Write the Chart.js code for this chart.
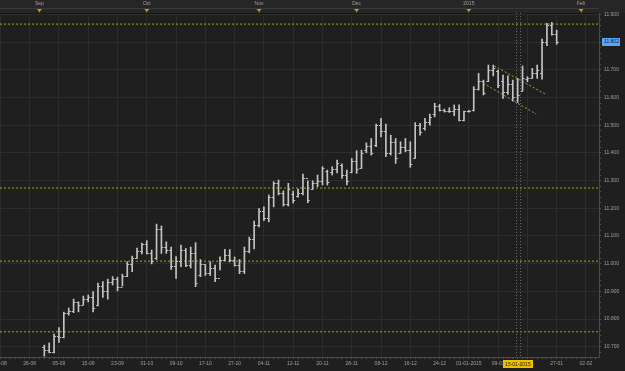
<!DOCTYPE html>
<html>
<head>
  <meta charset="utf-8">
  <title>OHLC daily bars</title>
  <script src="https://cdn.jsdelivr.net/npm/chart.js"></script>
  <style>
    html, body { margin: 0; padding: 0; background: #1f1f1f; overflow: hidden; }
    #wrap { width: 625px; height: 371px; }
  </style>
</head>
<body>
<div id="wrap"><canvas id="ohlcChart"></canvas></div>
<script>
// daily bars, index 0 = first bar on the chart
const highs = [10.706,10.714,10.746,10.769,10.825,10.840,10.872,10.862,10.883,10.887,
  10.899,10.930,10.935,10.944,10.953,10.951,10.962,11.007,11.027,11.056,
  11.074,11.083,11.049,11.143,11.136,11.079,11.060,11.026,11.067,11.055,
  11.060,11.076,11.015,10.997,11.007,10.995,11.025,11.052,11.051,11.024,
  11.015,11.060,11.096,11.154,11.199,11.205,11.248,11.296,11.302,11.263,
  11.290,11.262,11.269,11.323,11.299,11.299,11.320,11.350,11.338,11.350,
  11.374,11.360,11.338,11.380,11.408,11.410,11.436,11.452,11.504,11.525,
  11.504,11.464,11.452,11.440,11.452,11.440,11.509,11.507,11.525,11.540,
  11.579,11.575,11.558,11.563,11.573,11.573,11.551,11.554,11.639,11.687,
  11.663,11.717,11.717,11.699,11.681,11.678,11.663,11.669,11.714,11.675,
  11.705,11.717,11.811,11.868,11.871,11.843];
const lows = [10.666,10.678,10.678,10.716,10.732,10.814,10.823,10.826,10.851,10.862,
  10.826,10.847,10.878,10.872,10.923,10.902,10.919,10.953,10.971,11.019,
  11.035,11.035,10.999,11.015,11.037,11.037,10.979,10.947,10.989,10.989,
  10.984,10.917,10.953,10.957,10.957,10.935,10.977,11.011,11.006,10.991,
  10.964,10.964,11.039,11.053,11.133,11.155,11.151,11.205,11.248,11.208,
  11.208,11.219,11.240,11.248,11.220,11.268,11.278,11.284,11.284,11.320,
  11.328,11.308,11.284,11.328,11.326,11.344,11.400,11.392,11.422,11.458,
  11.386,11.392,11.362,11.398,11.404,11.348,11.380,11.464,11.482,11.500,
  11.530,11.551,11.547,11.546,11.534,11.515,11.515,11.547,11.551,11.627,
  11.609,11.657,11.678,11.635,11.597,11.611,11.587,11.582,11.623,11.657,
  11.669,11.669,11.666,11.787,11.825,11.792];
const opens = [10.700,10.690,10.680,10.740,10.735,10.822,10.830,10.862,10.850,10.872,
  10.880,10.850,10.920,10.900,10.935,10.945,10.915,10.955,11.000,11.020,
  11.045,11.070,11.040,11.020,11.125,11.060,11.050,10.990,11.010,11.050,
  10.995,11.040,10.960,11.000,10.965,10.985,10.950,11.015,11.030,11.015,
  10.995,10.975,11.045,11.090,11.140,11.190,11.165,11.240,11.290,11.255,
  11.215,11.250,11.245,11.255,11.310,11.270,11.290,11.300,11.335,11.330,
  11.340,11.355,11.320,11.330,11.370,11.345,11.410,11.425,11.430,11.500,
  11.480,11.400,11.440,11.400,11.420,11.410,11.380,11.500,11.490,11.510,
  11.540,11.570,11.555,11.552,11.550,11.560,11.520,11.550,11.555,11.630,
  11.660,11.660,11.700,11.695,11.660,11.620,11.650,11.600,11.625,11.665,
  11.670,11.690,11.690,11.800,11.860,11.830];
const closes = [10.690,10.680,10.740,10.735,10.822,10.830,10.862,10.850,10.872,10.880,
  10.840,10.920,10.900,10.935,10.945,10.915,10.955,11.000,11.020,11.045,
  11.070,11.040,11.010,11.125,11.060,11.050,10.990,11.010,11.050,10.995,
  11.040,10.930,11.000,10.965,10.985,10.950,11.015,11.030,11.015,10.995,
  10.975,11.045,11.090,11.140,11.190,11.165,11.240,11.290,11.255,11.215,
  11.270,11.230,11.255,11.310,11.230,11.290,11.300,11.345,11.295,11.340,
  11.365,11.320,11.300,11.370,11.340,11.400,11.425,11.400,11.500,11.480,
  11.400,11.440,11.380,11.420,11.410,11.360,11.500,11.475,11.510,11.530,
  11.570,11.555,11.552,11.550,11.560,11.520,11.550,11.552,11.630,11.660,
  11.615,11.700,11.705,11.645,11.620,11.650,11.600,11.610,11.670,11.670,
  11.690,11.700,11.800,11.860,11.830,11.802];

// bottom date axis (bar index -> label)
const datePos = [-9,-3,3,9,15,21,27,33,39,45,51,57,63,69,75,81,87,93,99,105,111];
const dateLabels = ["18-08","26-08","05-09","15-09","23-09","01-10","09-10","17-10","27-10","04-11",
  "12-11","20-11","28-11","08-12","16-12","24-12","01-01-2015","09-01","19-01","27-01","02-02"];

// top month axis
const monthPos = [-1, 21, 44, 64, 87, 110];
const monthLabels = ["Sep","Oct","Nov","Dec","2015","Feb"];

// price axis labels
const priceTicks = [10.7,10.8,10.9,11.0,11.1,11.2,11.3,11.4,11.5,11.6,11.7,11.8,11.9];

// drawn horizontal levels and the down channel
const levels = [11.865, 11.273, 11.009, 10.754];
const channelUpper = [{x: 92.2, y: 11.714}, {x: 102.8, y: 11.611}];
const channelLower = [{x: 90.0, y: 11.651}, {x: 100.8, y: 11.540}];

const cursorIndex = 97.05;
const cursorLabel = "15-01-2015";
const lastPrice = 11.802;

const xMin = -9.08, xMax = 113.67;
const yMin = 10.663, yMax = 11.905;
const fontFamily = "'Liberation Sans', Arial, sans-serif";
const labelColor = '#a0a0a0';
const barColor = '#c4c4c4';

const chartLook = {
  id: 'chartLook',
  beforeDraw(chart) {
    const {ctx, chartArea} = chart;
    ctx.save();
    ctx.fillStyle = '#1f1f1f';
    ctx.fillRect(0, 0, chart.width, chart.height);
    ctx.fillStyle = '#262626';
    ctx.fillRect(0, 0, chart.width, chartArea.top);
    // thin rule across the month band
    ctx.strokeStyle = '#3a3a3a';
    ctx.beginPath();
    ctx.moveTo(0, chartArea.top - 4.5);
    ctx.lineTo(chartArea.right, chartArea.top - 4.5);
    ctx.stroke();
    ctx.restore();
  },
  afterDatasetsDraw(chart) {
    const {ctx, scales: {x, y}} = chart;
    ctx.save();
    // open / close ticks
    ctx.strokeStyle = barColor;
    ctx.lineWidth = 1;
    ctx.beginPath();
    for (let i = 0; i < opens.length; i++) {
      const px = x.getPixelForValue(i);
      const yo = Math.round(y.getPixelForValue(opens[i])) + 0.5;
      const yc = Math.round(y.getPixelForValue(closes[i])) + 0.5;
      ctx.moveTo(px - 2, yo); ctx.lineTo(px, yo);
      ctx.moveTo(px, yc); ctx.lineTo(px + 2, yc);
    }
    ctx.stroke();
    ctx.restore();
  },
  afterDraw(chart) {
    const {ctx, chartArea, scales: {x, y, xTop}} = chart;
    ctx.save();
    // month markers
    ctx.fillStyle = '#d89a00';
    for (const v of monthPos) {
      const px = xTop.getPixelForValue(v);
      ctx.beginPath();
      ctx.moveTo(px - 2.5, chartArea.top - 4);
      ctx.lineTo(px + 2.5, chartArea.top - 4);
      ctx.lineTo(px, chartArea.top - 1);
      ctx.closePath();
      ctx.fill();
    }
    // cursor lines
    ctx.strokeStyle = '#6a6a6a';
    ctx.setLineDash([1, 2]);
    for (const d of [-0.4, 0.4]) {
      const px = Math.round(x.getPixelForValue(cursorIndex + d)) + 0.5;
      ctx.beginPath();
      ctx.moveTo(px, chartArea.top);
      ctx.lineTo(px, chartArea.bottom);
      ctx.stroke();
    }
    ctx.setLineDash([]);
    ctx.font = '5px ' + fontFamily;
    ctx.textBaseline = 'middle';
    // cursor date box
    const cx = x.getPixelForValue(cursorIndex);
    const w = ctx.measureText(cursorLabel).width + 4;
    ctx.fillStyle = '#f0c000';
    ctx.fillRect(Math.round(cx - w / 2), chartArea.bottom + 3, Math.round(w), 8);
    ctx.fillStyle = '#111';
    ctx.textAlign = 'center';
    ctx.fillText(cursorLabel, cx, chartArea.bottom + 7.5);
    // last price box
    const py = y.getPixelForValue(lastPrice);
    ctx.fillStyle = '#5aa6f0';
    ctx.fillRect(chartArea.right + 3, Math.round(py) - 4, 18, 8);
    ctx.fillStyle = '#0d2240';
    ctx.textAlign = 'left';
    ctx.fillText(lastPrice.toFixed(3), chartArea.right + 5, Math.round(py));
    ctx.restore();
  }
};

const isMajor = (v) => Math.abs(v * 10 - Math.round(v * 10)) < 1e-6;

const levelSets = levels.map((v) => ({
  type: 'line',
  data: [{x: xMin, y: v}, {x: xMax, y: v}],
  borderColor: '#a9a900',
  borderWidth: 1,
  borderDash: [2, 2],
  pointRadius: 0,
}));
const channelSets = [channelUpper, channelLower].map((d) => ({
  type: 'line',
  data: d,
  borderColor: '#a8a820',
  borderWidth: 1,
  borderDash: [2, 2],
  pointRadius: 0,
}));

new Chart(document.getElementById('ohlcChart'), {
  type: 'bar',
  data: {
    datasets: [
      {
        data: highs.map((h, i) => ({x: i, y: [lows[i], h]})),
        backgroundColor: barColor,
        barThickness: 1,
        grouped: false,
      },
      ...levelSets,
      ...channelSets,
    ]
  },
  options: {
    responsive: true,
    maintainAspectRatio: false,
    animation: false,
    events: [],
    layout: { padding: 0 },
    plugins: { legend: { display: false }, tooltip: { enabled: false } },
    scales: {
      x: {
        type: 'linear', position: 'bottom', min: xMin, max: xMax, offset: false,
        afterBuildTicks: (s) => {
          const t = [];
          for (let v = -9; v <= 113; v++) t.push({value: v});
          s.ticks = t;
        },
        afterFit: (s) => { s.height = 14; s.paddingLeft = 0; s.paddingRight = 0; },
        grid: {
          offset: false,
          color: (c) => (c.tick && datePos.includes(c.tick.value)) ? '#2d2d2d' : 'rgba(0,0,0,0)',
          tickColor: '#555',
          tickLength: 2,
        },
        border: { color: '#4a4a4a' },
        ticks: {
          autoSkip: false, maxRotation: 0, padding: 2, color: labelColor,
          font: { size: 5, family: fontFamily },
          callback: (v) => { const k = datePos.indexOf(v); return k < 0 ? '' : dateLabels[k]; },
        },
      },
      xTop: {
        type: 'linear', position: 'top', min: xMin, max: xMax, offset: false,
        afterBuildTicks: (s) => { s.ticks = monthPos.map((v) => ({value: v})); },
        afterFit: (s) => { s.height = 13; s.paddingLeft = 0; s.paddingRight = 0; },
        grid: { drawOnChartArea: false, offset: false, color: '#555', tickLength: 4 },
        border: { color: '#151515' },
        ticks: {
          autoSkip: false, maxRotation: 0, padding: 2, color: labelColor,
          font: { size: 5, family: fontFamily },
          callback: (v, i) => monthLabels[i],
        },
      },
      y: {
        position: 'right', min: yMin, max: yMax,
        afterBuildTicks: (s) => {
          const t = [];
          for (let k = 534; k <= 595; k++) t.push({value: k / 50});
          s.ticks = t;
        },
        afterFit: (s) => { s.width = 26; },
        grid: {
          color: (c) => (c.tick && isMajor(c.tick.value)) ? '#2d2d2d' : 'rgba(0,0,0,0)',
          tickColor: '#555',
          tickLength: 2,
        },
        border: { color: '#4a4a4a' },
        ticks: {
          autoSkip: false, padding: 3, color: labelColor,
          font: { size: 5, family: fontFamily },
          callback: (v) => {
            const hit = priceTicks.find((p) => Math.abs(p - v) < 1e-6);
            return hit === undefined ? '' : hit.toFixed(3);
          },
        },
      },
    }
  },
  plugins: [chartLook]
});
</script>
</body>
</html>
